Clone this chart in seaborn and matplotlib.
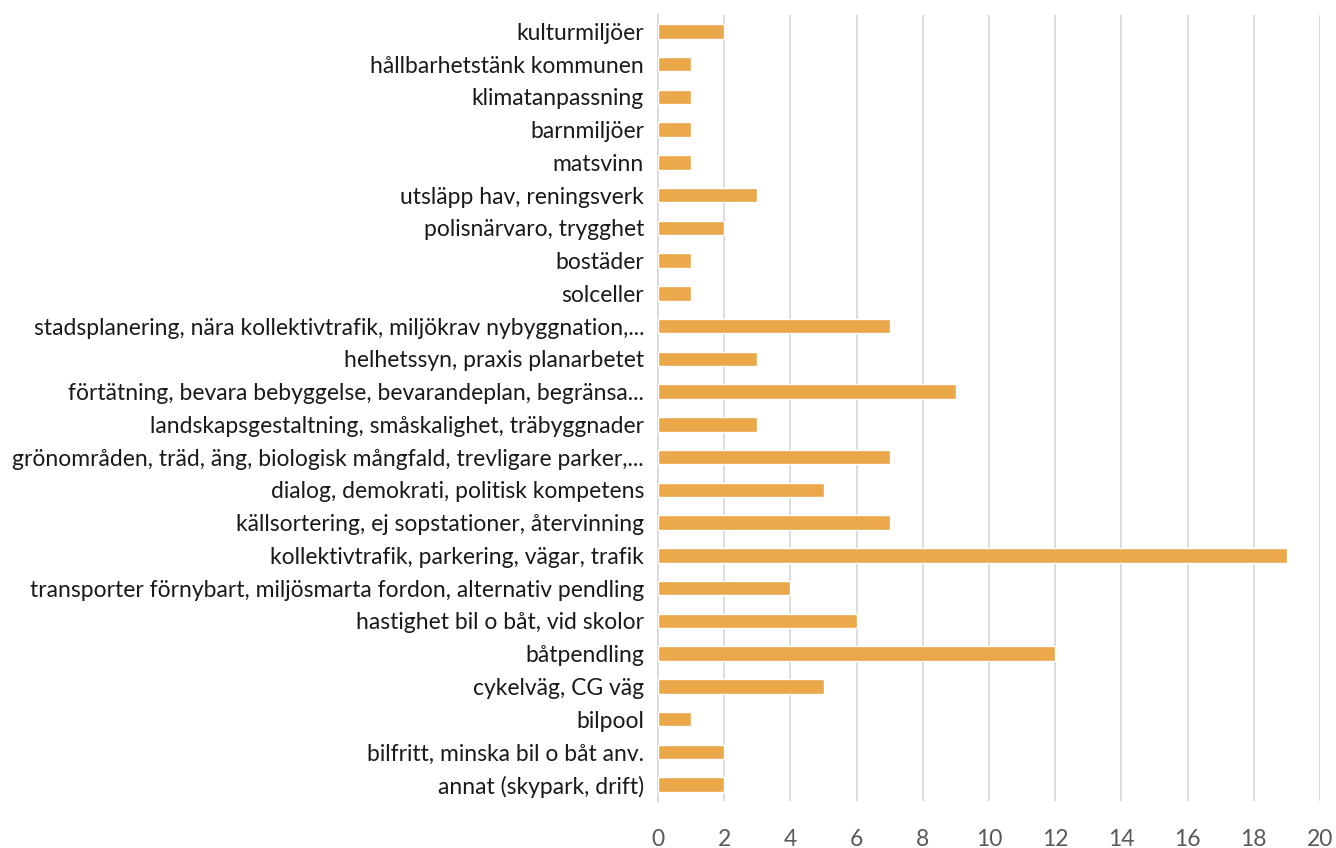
import matplotlib
matplotlib.use("Agg")
import matplotlib.pyplot as plt
import seaborn as sns
import pandas as pd
import numpy as np
from matplotlib.ticker import FixedLocator

categories = [
    "kulturmiljöer",
    "hållbarhetstänk kommunen",
    "klimatanpassning",
    "barnmiljöer",
    "matsvinn",
    "utsläpp hav, reningsverk",
    "polisnärvaro, trygghet",
    "bostäder",
    "solceller",
    "stadsplanering, nära kollektivtrafik, miljökrav nybyggnation,...",
    "helhetssyn, praxis planarbetet",
    "förtätning, bevara bebyggelse, bevarandeplan, begränsa...",
    "landskapsgestaltning, småskalighet, träbyggnader",
    "grönområden, träd, äng, biologisk mångfald, trevligare parker,...",
    "dialog, demokrati, politisk kompetens",
    "källsortering, ej sopstationer, återvinning",
    "kollektivtrafik, parkering, vägar, trafik",
    "transporter förnybart, miljösmarta fordon, alternativ pendling",
    "hastighet bil o båt, vid skolor",
    "båtpendling",
    "cykelväg, CG väg",
    "bilpool",
    "bilfritt, minska bil o båt anv.",
    "annat (skypark, drift)",
]
values = [2, 1, 1, 1, 1, 3, 2, 1, 1, 7, 3, 9, 3, 7, 5, 7, 19, 4, 6, 12, 5, 1, 2, 2]
x_ticks = [0, 2, 4, 6, 8, 10, 12, 14, 16, 18, 20]

df = pd.DataFrame({"cat": categories, "val": values})

sns.set_theme(style="white")
plt.rcParams["font.family"] = ["Lato", "DejaVu Sans"]

fig = plt.figure(figsize=(13.36, 8.48), dpi=100)
ax = fig.add_axes([658/1336, 1-801/848, (1320-658)/1336, (801-15)/848])

sns.barplot(data=df, x="val", y="cat", orient="h", color="#EBA84A",
            saturation=1, width=0.44, ax=ax, zorder=3)

ax.set_xlim(0, 20)
ax.set_ylim(len(categories)-0.5, -0.5)
ax.set_xticks(x_ticks)
ax.set_xticklabels([str(t) for t in x_ticks])
ax.xaxis.grid(True, color="#D9D9D9", linewidth=1.3, zorder=0)
ax.set_axisbelow(True)
ax.set_xlabel("")
ax.set_ylabel("")

for s in ["top", "right", "bottom"]:
    ax.spines[s].set_visible(False)
ax.spines["left"].set_color("#D9D9D9")
ax.spines["left"].set_linewidth(1.3)

ax.tick_params(axis="y", which="major", length=0, labelsize=16.5, labelcolor="#1a1a1a", pad=10)
ax.yaxis.set_minor_locator(FixedLocator(np.arange(-0.5, len(categories), 1.0)))
ax.tick_params(axis="y", which="minor", length=7, width=1.3, color="#D9D9D9", direction="out")
ax.tick_params(axis="x", length=0, labelsize=16.5, labelcolor="#595959", pad=20)

fig.savefig("out.png", dpi=100)
